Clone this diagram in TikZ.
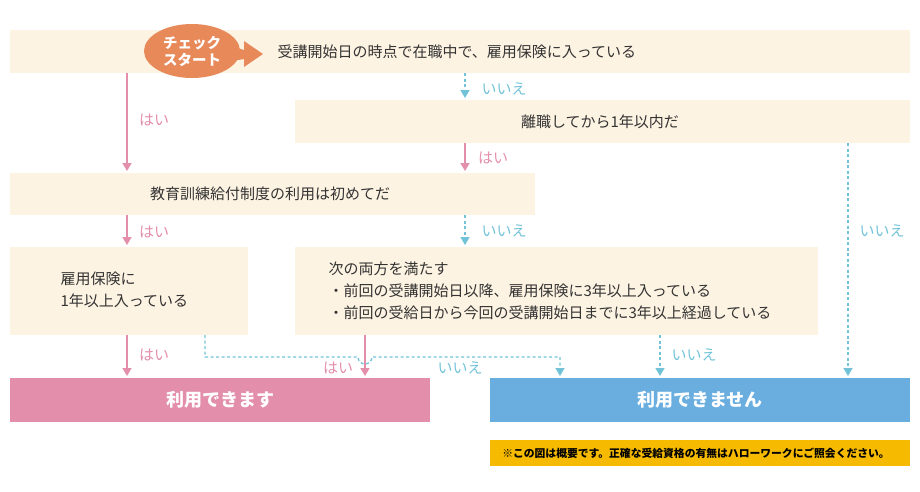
\documentclass[tikz,border=0pt]{standalone}
\usepackage{fontspec}
\setmainfont{Noto Sans CJK JP}
\usetikzlibrary{arrows.meta}
\definecolor{cream}{HTML}{FDF3E2}
\definecolor{pk}{HTML}{E38FAC}
\definecolor{bl}{HTML}{6AAEE0}
\definecolor{cy}{HTML}{72C3D8}
\definecolor{org}{HTML}{E8895A}
\definecolor{yl}{HTML}{F6BA00}
\definecolor{tx}{HTML}{333333}
\begin{document}
\begin{tikzpicture}[x=1pt,y=-1pt,
 txt/.style={text=tx,font=\fontsize{15}{22}\selectfont,align=left},
 yes/.style={draw=pk,line width=1.6pt,-{Triangle[width=9pt,length=8pt]}},
 no/.style={draw=cy,line width=1.4pt,dash pattern=on 3pt off 2.5pt,-{Triangle[width=9pt,length=8pt]}},
 ylab/.style={text=pk,font=\fontsize{15}{16}\selectfont},
 nlab/.style={text=cy,font=\fontsize{15}{16}\selectfont}]
\useasboundingbox (0,0) rectangle (920,491);
\fill[cream] (10,30) rectangle (910,73);
\fill[cream] (295,100) rectangle (910,143);
\fill[cream] (10,173) rectangle (535,215);
\fill[cream] (10,247) rectangle (248,335);
\fill[cream] (295,247) rectangle (818,335);
\fill[pk] (10,378) rectangle (430,422);
\fill[bl] (490,378) rectangle (910,422);
\fill[yl] (490,440) rectangle (910,466);
\node[txt,anchor=west] (t1) at (274,52) {受講開始日の時点で在職中で、雇用保険に入っている};
\node[txt] (t2) at (600,122) {離職してから1年以内だ};
\node[txt] (t3) at (270,194) {教育訓練給付制度の利用は初めてだ};
\node[txt,anchor=west] (t4) at (57,290) {雇用保険に\\1年以上入っている};
\node[txt,anchor=west] (t5) at (325,291) {次の両方を満たす\\・前回の受講開始日以降、雇用保険に3年以上入っている\\・前回の受給日から今回の受講開始日までに3年以上経過している};
\node[text=white,font=\fontsize{18}{22}\bfseries\selectfont] (r1) at (220,400) {利用できます};
\node[text=white,font=\fontsize{18}{22}\bfseries\selectfont] (r2) at (700,400) {利用できません};
\node[text=black,font=\fontsize{10.8}{12}\bfseries\selectfont] (nt) at (696,453) {※この図は概要です。正確な受給資格の有無はハローワークにご照会ください。};
% start badge
\fill[org] (192,51) ellipse (48 and 27);
\fill[org] (226,44) -- (244,50) -- (244,41) -- (263,54) -- (244,67) -- (244,59) -- (226,62) -- cycle;
\node[text=white,font=\fontsize{14.5}{17}\bfseries\selectfont,align=center] (st) at (192,51) {チェック\\スタート};
% arrows
\draw[yes] (127,73) -- (127,171); \node[ylab] (h1) at (154,120) {はい};
\draw[yes] (127,215) -- (127,245); \node[ylab] (h2) at (154,232) {はい};
\draw[yes] (127,335) -- (127,376); \node[ylab] (h3) at (154,355) {はい};
\draw[no] (465,73) -- (465,98); \node[nlab] (n1) at (504,89) {いいえ};
\draw[yes] (465,143) -- (465,171); \node[ylab] (h4) at (493,158) {はい};
\draw[no] (465,215) -- (465,245); \node[nlab] (n2) at (504,231) {いいえ};
\draw[no] (848,143) -- (848,376); \node[nlab] (n3) at (882,231) {いいえ};
\draw[no] (660,335) -- (660,376); \node[nlab] (n4) at (694,355) {いいえ};
\draw[no] (205,335) -- (205,357) -- (358,357) arc[start angle=180,end angle=0,radius=7] -- (560,357) -- (560,376);
\node[nlab] (n5) at (460,368) {いいえ};
\draw[yes] (365,335) -- (365,376); \node[ylab] (h5) at (338,368) {はい};
\end{tikzpicture}
\end{document}
